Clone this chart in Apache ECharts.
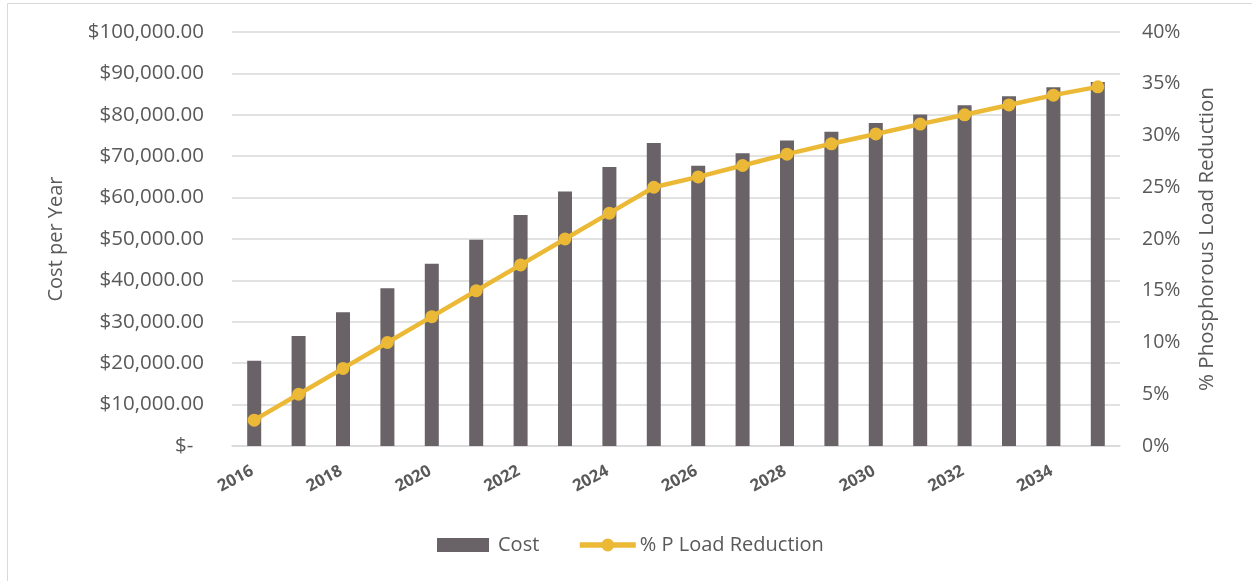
<!DOCTYPE html>
<html>
<head>
<meta charset="utf-8">
<script src="https://cdn.jsdelivr.net/npm/echarts@6/dist/echarts.min.js"></script>
<style>
  html, body { margin: 0; padding: 0; background: #fff; }
  #chart { width: 1252px; height: 581px; }
</style>
</head>
<body>
<div id="chart"></div>
<script>
// Annual program cost and the resulting phosphorus load reduction
const years = ['2016','2017','2018','2019','2020','2021','2022','2023','2024','2025',
               '2026','2027','2028','2029','2030','2031','2032','2033','2034','2035'];
const costPerYear = [20600, 26550, 32300, 38100, 44000, 49800, 55800, 61500, 67400, 73200,
                     67700, 70700, 73800, 75900, 78000, 80100, 82300, 84500, 86650, 87900];
const pLoadReduction = [2.5, 5.0, 7.5, 10.0, 12.5, 15.0, 17.5, 20.0, 22.5, 25.0,
                        26.0, 27.1, 28.2, 29.2, 30.15, 31.1, 32.0, 32.95, 33.9, 34.7];

const FONT = '"Open Sans", "Liberation Sans", sans-serif';
const TXT = '#595959';
const GRID = '#D9D9D9';
const BAR = '#696267';
const LINE = '#EBB935';

function money(v) {
  if (v === 0) return '$-  ';
  return '$' + v.toLocaleString('en-US', { minimumFractionDigits: 2, maximumFractionDigits: 2 });
}

const legendText = { fontFamily: FONT, fontSize: 20, color: TXT };

const chart = echarts.init(document.getElementById('chart'), null, { renderer: 'canvas' });
chart.setOption({
  animation: false,
  backgroundColor: '#fff',
  textStyle: { fontFamily: FONT, color: TXT },
  graphic: [
    { type: 'line', shape: { x1: 7.5, y1: 3.5, x2: 1252, y2: 3.5 }, style: { stroke: GRID, lineWidth: 1 } },
    { type: 'line', shape: { x1: 7.5, y1: 3.5, x2: 7.5, y2: 581 }, style: { stroke: GRID, lineWidth: 1 } }
  ],
  grid: { left: 232, right: 132, top: 32, bottom: 135 },
  legend: [
    {
      left: 437, top: 535, padding: 0,
      itemWidth: 52, itemHeight: 14,
      textStyle: Object.assign({ padding: [0, 0, 0, 4] }, legendText),
      data: [{ name: 'Cost', icon: 'rect' }]
    },
    {
      left: 577, top: 535, padding: 0,
      itemWidth: 56, itemHeight: 16,
      textStyle: Object.assign({ padding: [0, 0, 0, -1] }, legendText),
      data: [{
        name: '% P Load Reduction',
        lineStyle: { color: LINE, width: 5.5 },
        itemStyle: { color: LINE }
      }]
    }
  ],
  xAxis: {
    type: 'category',
    data: years,
    boundaryGap: true,
    axisLine: { show: true, lineStyle: { color: GRID, width: 1.5 } },
    axisTick: { show: false },
    axisLabel: {
      interval: 1, rotate: 28, margin: 23,
      fontFamily: FONT, fontSize: 16.5, fontWeight: 'bold', color: TXT,
      padding: [0, 2, 0, 0]
    }
  },
  yAxis: [
    {
      type: 'value', min: 0, max: 100000, interval: 10000,
      name: 'Cost per Year', nameLocation: 'middle', nameGap: 166, nameRotate: 90,
      nameTextStyle: { fontFamily: FONT, fontSize: 20, color: TXT },
      axisLine: { show: false }, axisTick: { show: false },
      splitLine: { lineStyle: { color: GRID, width: 1.5 } },
      axisLabel: { margin: 28, fontFamily: FONT, fontSize: 20.5, color: TXT, formatter: money }
    },
    {
      type: 'value', min: 0, max: 40, interval: 5, position: 'right',
      name: '% Phosphorous Load Reduction', nameLocation: 'middle', nameGap: 77, nameRotate: 90,
      nameTextStyle: { fontFamily: FONT, fontSize: 20.5, color: TXT },
      axisLine: { show: false }, axisTick: { show: false },
      splitLine: { show: false },
      axisLabel: { margin: 22, fontFamily: FONT, fontSize: 19.5, color: TXT, formatter: v => v + '%' }
    }
  ],
  series: [
    {
      name: 'Cost', type: 'bar', yAxisIndex: 0,
      data: costPerYear, barWidth: 14,
      itemStyle: { color: BAR }
    },
    {
      name: '% P Load Reduction', type: 'line', yAxisIndex: 1,
      data: pLoadReduction,
      symbol: 'circle', symbolSize: 13,
      lineStyle: { color: LINE, width: 4.5 },
      itemStyle: { color: LINE, borderWidth: 0 }
    }
  ]
});
</script>
</body>
</html>
